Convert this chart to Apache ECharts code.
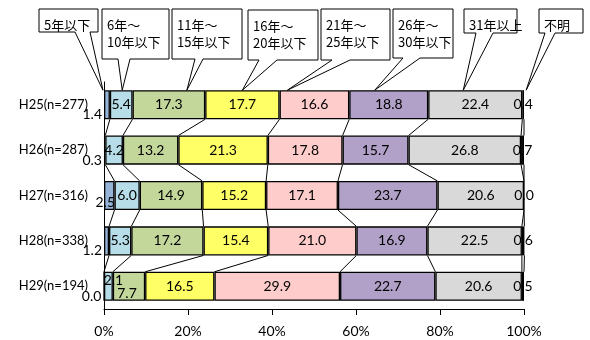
<!DOCTYPE html>
<html>
<head>
    <meta charset="utf-8">
    <title>経過年数別の割合</title>
    <script type="text/javascript" src="https://cdn.jsdelivr.net/npm/echarts@6/dist/echarts.min.js"></script>
    <style>
        html, body { margin: 0; padding: 0; background: #fff; }
        #chart { width: 590px; height: 340px; }
    </style>
</head>
<body>
<div id="chart"></div>
<script type="text/javascript">
    // 年度ごとの区分 (上から H25 → H29)
    var categories = ['H25(n=277)', 'H26(n=287)', 'H27(n=316)', 'H28(n=338)', 'H29(n=194)'];
    var seriesNames = ['5年以下', '6年～\n10年以下', '11年～\n15年以下', '16年～\n20年以下',
                       '21年～\n25年以下', '26年～\n30年以下', '31年以上', '不明'];
    // 各区分の割合 (%)
    var upTo5    = [1.4, 0.3, 2.5, 1.2, 0.0];
    var y6to10   = [5.4, 4.2, 6.0, 5.3, 2.1];
    var y11to15  = [17.3, 13.2, 14.9, 17.2, 7.7];
    var y16to20  = [17.7, 21.3, 15.2, 15.4, 16.5];
    var y21to25  = [16.6, 17.8, 17.1, 21.0, 29.9];
    var y26to30  = [18.8, 15.7, 23.7, 16.9, 22.7];
    var over31   = [22.4, 26.8, 20.6, 22.5, 20.6];
    var unknown  = [0.4, 0.7, 0.0, 0.6, 0.5];
    var xTicks   = [0, 20, 40, 60, 80, 100];

    var allValues = [upTo5, y6to10, y11to15, y16to20, y21to25, y26to30, over31, unknown];
    var colors = ['#95b3d7', '#b7dee8', '#c4d79b', '#ffff66', '#ffcccc', '#b1a0c7', '#d9d9d9', '#262626'];
    var BAR_RATIO = 0.64;
    var numFont = 'Lato, "Noto Sans CJK JP", sans-serif';
    var jpFont = '"Noto Sans CJK JP", sans-serif';

    // 吹き出しの配置 (ピクセル)
    var calloutBox = [[39, 9, 59, 23], [102, 9, 67, 50], [172, 9, 70, 50], [248, 10, 70, 50],
                      [321, 9, 69, 51], [393, 9, 60, 49], [464, 9, 53, 24], [539, 9, 44, 24]];
    var calloutBase = [[75, 90], [118, 130], [195, 203], [259, 277], [332, 350], [403, 420], [476, 493], [545, 555]];
    var calloutTipShift = [-4, 1, 18, 0, -27, -14, -12, 3];

    // ラベル位置の個別調整  key: 系列-年度
    var labelTweaks = {
        '0-2': { position: 'inside', offset: [-4, 7] },
        '1-4': { offset: [5, -6] },
        '2-4': { offset: [-2, 7] }
    };

    // 累積値
    var cum = categories.map(function (c, ci) {
        var s = 0, out = [];
        allValues.forEach(function (arr) { s += arr[ci]; out.push(s); });
        return out;
    });

    var fmt = function (p) { return (+p.value).toFixed(1); };

    var series = allValues.map(function (arr, si) {
        return {
            name: seriesNames[si],
            type: 'bar',
            stack: 'total',
            barCategoryGap: '36%',
            itemStyle: { color: colors[si], borderColor: '#000', borderWidth: 1.3 },
            label: si === 0
                ? { show: true, position: 'left', distance: 2, offset: [0, 10], formatter: fmt,
                    color: '#000', fontSize: 14, fontFamily: numFont }
                : { show: true, position: 'inside', formatter: fmt,
                    color: '#000', fontSize: 14, fontFamily: numFont },
            data: arr.map(function (v, ci) {
                var t = labelTweaks[si + '-' + ci];
                return t ? { value: v, label: t } : v;
            })
        };
    });

    // 系列線
    var linkData = [];
    for (var i = 0; i < categories.length - 1; i++) {
        for (var k = 0; k < allValues.length; k++) {
            linkData.push([cum[i][k], i, cum[i + 1][k], i + 1]);
        }
    }
    series.push({
        type: 'custom',
        silent: true,
        z: 3,
        clip: false,
        encode: { x: [0, 2], y: [1, 3] },
        data: linkData,
        renderItem: function (params, api) {
            var p1 = api.coord([api.value(0), api.value(1)]);
            var p2 = api.coord([api.value(2), api.value(3)]);
            var half = api.size([0, 1])[1] * BAR_RATIO / 2;
            return {
                type: 'line',
                shape: { x1: p1[0], y1: p1[1] + half, x2: p2[0], y2: p2[1] - half },
                style: { stroke: '#000', lineWidth: 1 }
            };
        }
    });

    // 吹き出し (H25 の各区分を指す)
    series.push({
        type: 'custom',
        silent: true,
        z: 5,
        clip: false,
        data: seriesNames.map(function (n, si) { return [cum[0][si] - allValues[si][0] / 2, 0]; }),
        renderItem: function (params, api) {
            var si = params.dataIndex;
            var c = api.coord([api.value(0), api.value(1)]);
            var half = api.size([0, 1])[1] * BAR_RATIO / 2;
            var tip = [c[0] + calloutTipShift[si], c[1] - half];
            var b = calloutBox[si], base = calloutBase[si];
            var x0 = b[0], y0 = b[1], x1 = b[0] + b[2], y1 = b[1] + b[3];
            return {
                type: 'group',
                children: [{
                    type: 'polygon',
                    shape: { points: [[x0, y0], [x1, y0], [x1, y1], [base[1], y1], tip, [base[0], y1], [x0, y1]] },
                    style: { fill: '#fff', stroke: '#000', lineWidth: 1 }
                }, {
                    type: 'text',
                    style: {
                        text: seriesNames[si], x: x0 + 5, y: y0 + 7,
                        fill: '#000', fontSize: 13, fontFamily: jpFont, lineHeight: 17.5,
                        align: 'left', verticalAlign: 'top'
                    }
                }]
            };
        }
    });

    var myChart = echarts.init(document.getElementById('chart'), null, { renderer: 'canvas' });
    myChart.setOption({
        animation: false,
        backgroundColor: '#fff',
        grid: { left: 104, right: 66, top: 82, bottom: 31 },
        xAxis: {
            type: 'value',
            min: xTicks[0],
            max: xTicks[xTicks.length - 1],
            interval: xTicks[1] - xTicks[0],
            axisLine: { show: true, lineStyle: { color: '#000', width: 1 } },
            axisTick: { show: true, length: 6, lineStyle: { color: '#000' } },
            splitLine: { show: false },
            axisLabel: { formatter: '{value}%', color: '#000', fontSize: 14, fontFamily: numFont, margin: 15 }
        },
        yAxis: {
            type: 'category',
            inverse: true,
            data: categories,
            axisLine: { show: true, lineStyle: { color: '#000', width: 1 } },
            axisTick: { show: false },
            axisLabel: { color: '#000', fontSize: 13, fontFamily: numFont, margin: 16 }
        },
        series: series
    });
</script>
</body>
</html>
